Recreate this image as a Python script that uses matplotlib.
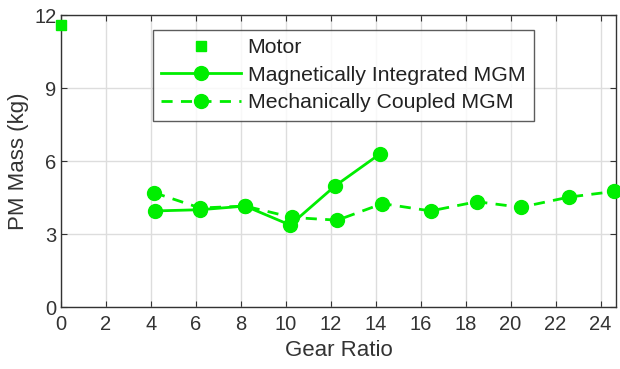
import matplotlib
matplotlib.use("Agg")
import matplotlib.pyplot as plt

# data
motor_ratio = [0.0]
motor_mass = [11.6]

integrated_ratio = [4.2, 6.2, 8.2, 10.2, 12.2, 14.2]
integrated_mass = [3.95, 4.0, 4.15, 3.37, 4.98, 6.3]

coupled_ratio = [4.15, 6.2, 8.2, 10.3, 12.3, 14.3, 16.45, 18.5, 20.45, 22.6, 24.6]
coupled_mass = [4.7, 4.07, 4.15, 3.68, 3.57, 4.25, 3.95, 4.33, 4.1, 4.52, 4.75]

x_ticks = list(range(0, 26, 2))
y_ticks = [0, 3, 6, 9, 12]

green = "#00ee00"

plt.rcParams["font.family"] = ["Liberation Sans", "DejaVu Sans"]

fig = plt.figure(figsize=(6.2, 3.69), dpi=100)
ax = fig.add_axes([0.098, 0.168, 0.896, 0.791])

ax.plot(motor_ratio, motor_mass, "s", color=green, markersize=7,
        linestyle="none", label="Motor", clip_on=False, zorder=5)
ax.plot(integrated_ratio, integrated_mass, "-o", color=green, linewidth=2,
        markersize=10, label="Magnetically Integrated MGM", zorder=4)
ax.plot(coupled_ratio, coupled_mass, "--o", color=green, linewidth=2,
        markersize=10, dashes=(4, 3), label="Mechanically Coupled MGM",
        clip_on=False, zorder=3)

ax.set_xlim(0, 24.7)
ax.set_ylim(0, 12)
ax.set_xticks(x_ticks)
ax.set_yticks(y_ticks)
ax.tick_params(direction="in", top=True, right=True, labelsize=14.5,
               color="#333333", length=4)
ax.tick_params(axis="x", pad=6)
ax.tick_params(axis="y", pad=3)
ax.grid(True, color="#dddddd", linewidth=1)
ax.set_axisbelow(True)
for spine in ax.spines.values():
    spine.set_color("#333333")
    spine.set_linewidth(1)

ax.set_xlabel("Gear Ratio", fontsize=16, color="#333333", labelpad=4)
ax.set_ylabel("PM Mass (kg)", fontsize=16, color="#333333", labelpad=4)
for lbl in ax.get_xticklabels() + ax.get_yticklabels():
    lbl.set_color("#333333")

leg = ax.legend(loc="upper left", bbox_to_anchor=(0.166, 0.95), fontsize=15.3,
                frameon=True, fancybox=False, edgecolor="#333333",
                handlelength=3.75, handletextpad=0.3, borderpad=0.4,
                labelspacing=0.4, borderaxespad=0)
leg.get_frame().set_linewidth(1)
for t in leg.get_texts():
    t.set_color("#222222")

fig.savefig("out.png", dpi=100)
